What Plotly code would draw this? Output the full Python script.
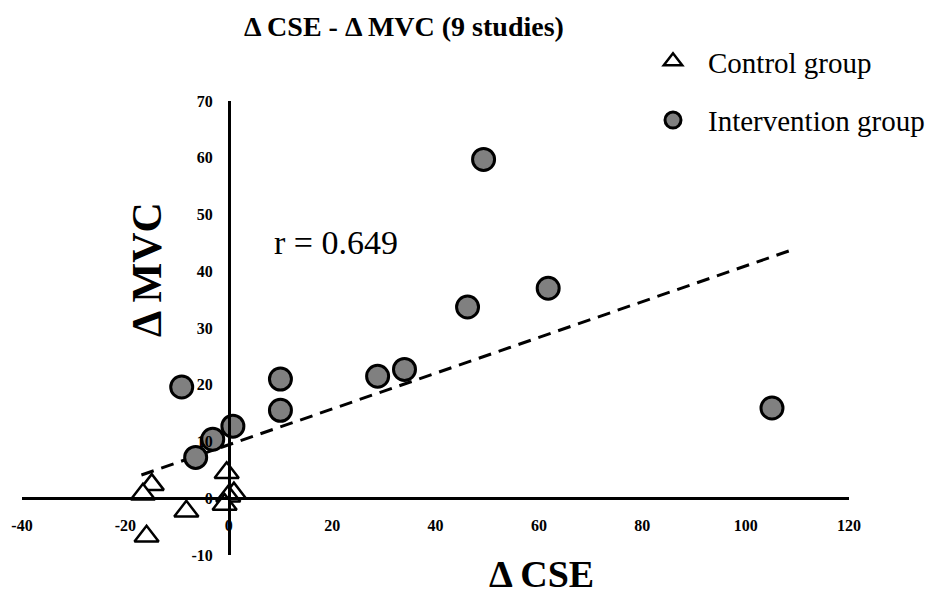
import plotly.graph_objects as go

# ---- data ----
control_cse = [-14.9, -16.6, -8.2, -15.9, -0.4, 1.0, -0.1, -0.8]
control_mvc = [2.4, 0.7, -2.3, -6.7, 4.5, 0.9, 0.35, -1.1]

intervention_cse = [49.3, 61.8, 46.2, 34.0, 28.8, 10.0, 10.0, 105.1, -9.1, 0.8, -3.1, -6.4]
intervention_mvc = [59.7, 37.0, 33.7, 22.7, 21.5, 21.0, 15.5, 15.9, 19.6, 12.7, 10.4, 7.2]

trend_cse = [-16.9, 109.4]
trend_mvc = [4.1, 43.9]

x_range = [-40, 120]
y_range = [-10, 70]
x_ticks = [-40, -20, 0, 20, 40, 60, 80, 100, 120]
y_ticks = [-10, 0, 10, 20, 30, 40, 50, 60, 70]
x_tick_labels = ["-40", "-20", "0", "20", "40", "60", "80", "100", "120"]
y_tick_labels = ["-10", "0", "10", "20", "30", "40", "50", "60", "70"]

SERIF = "Liberation Serif"
W, H = 925, 589  # page body keeps an 8px margin

fig = go.Figure()

fig.add_trace(go.Scatter(
    x=trend_cse, y=trend_mvc, mode="lines",
    line=dict(color="black", width=3, dash="13px,8px"),
    showlegend=False, hoverinfo="skip"))

fig.add_trace(go.Scatter(
    x=control_cse, y=control_mvc, mode="markers", name="Control group",
    legendgroup="c",
    marker=dict(symbol="triangle-up", size=21, color="white",
                line=dict(color="black", width=2.5))))

fig.add_trace(go.Scatter(
    x=intervention_cse, y=intervention_mvc, mode="markers", name="Intervention group",
    legendgroup="i",
    marker=dict(symbol="circle", size=22, color="#808080",
                line=dict(color="black", width=3))))

# axis crossing positions (where the other axis' zero lies)
x_cross = (0 - x_range[0]) / (x_range[1] - x_range[0])
y_cross = (0 - y_range[0]) / (y_range[1] - y_range[0])

tickfont = dict(family=SERIF, size=16, color="black", weight="bold")

fig.update_layout(
    width=W, height=H,
    paper_bgcolor="white", plot_bgcolor="white",
    margin=dict(l=14, r=84, t=93, b=42, autoexpand=False),
    title=dict(text="<b>Δ CSE - Δ MVC (9 studies)</b>",
               font=dict(family=SERIF, size=28, color="black"),
               x=396 / W, xanchor="center", xref="container",
               y=1 - 18 / H, yanchor="middle", yref="container"),
    xaxis=dict(range=x_range, tickvals=x_ticks, ticktext=x_tick_labels,
               showgrid=False, zeroline=False,
               showline=True, linecolor="black", linewidth=2.5,
               anchor="free", position=y_cross, ticks="",
               tickfont=tickfont, ticklabelstandoff=12),
    yaxis=dict(range=y_range, tickvals=y_ticks, ticktext=y_tick_labels,
               showgrid=False, zeroline=False,
               showline=True, linecolor="black", linewidth=2.5,
               anchor="free", position=x_cross, ticks="",
               tickfont=tickfont, ticklabelstandoff=12),
    legend=dict(x=630 / W, xref="container", xanchor="left",
                y=1 - 28 / H, yref="container", yanchor="top",
                font=dict(family=SERIF, size=29, color="black"),
                tracegroupgap=18, itemwidth=60, bgcolor="rgba(0,0,0,0)"),
    showlegend=True,
    annotations=[
        dict(text="<b>Δ CSE</b>", xref="paper", yref="paper",
             x=(533 - 14) / 827, y=(547 - 566) / 454, xanchor="center", yanchor="middle",
             showarrow=False, font=dict(family=SERIF, size=38, color="black")),
        dict(text="<b>Δ MVC</b>", xref="paper", yref="paper",
             x=(139 - 14) / 827, y=(547 - 262) / 454, xanchor="center", yanchor="middle",
             textangle=-90,
             showarrow=False, font=dict(family=SERIF, size=42, color="black")),
        dict(text="r = 0.649", xref="paper", yref="paper",
             x=(264 - 14) / 827, y=(547 - 234) / 454, xanchor="left", yanchor="middle",
             showarrow=False, font=dict(family=SERIF, size=34, color="black")),
    ],
)

fig.write_html("out.html")
